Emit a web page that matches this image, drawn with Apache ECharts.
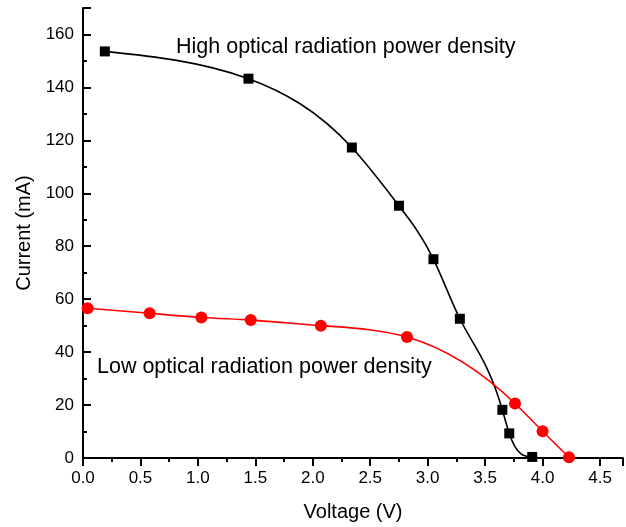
<!DOCTYPE html>
<html>
<head>
<meta charset="utf-8">
<script src="https://cdn.jsdelivr.net/npm/echarts@6/dist/echarts.min.js"></script>
<style>html,body{margin:0;padding:0;background:#fff;}#c{width:626px;height:527px;}</style>
</head>
<body>
<div id="c"></div>
<script>
var highV = [0.19, 1.44, 2.34, 2.75, 3.05, 3.28, 3.65, 3.71, 3.91];
var highI = [153.6, 143.3, 117.3, 95.3, 75.1, 52.6, 18.2, 9.3, 0.4];
var lowV = [0.04, 0.58, 1.03, 1.46, 2.07, 2.82, 3.76, 4.00, 4.23];
var lowI = [56.6, 54.7, 53.1, 52.1, 50.0, 45.7, 20.6, 10.1, 0.3];
var highLabel = 'High optical radiation power density';
var lowLabel = 'Low optical radiation power density';

function pairs(xs, ys) { return xs.map(function (x, i) { return [x, ys[i]]; }); }

// natural cubic spline slopes at the data points (data space)
function splineSlopes(xs, ys) {
  var n = xs.length, h = [], i;
  for (i = 0; i < n - 1; i++) h.push(xs[i + 1] - xs[i]);
  var a = [], b = [], c = [], d = [];
  for (i = 0; i < n; i++) {
    if (i === 0 || i === n - 1) { a.push(0); b.push(1); c.push(0); d.push(0); }
    else {
      a.push(h[i - 1]); b.push(2 * (h[i - 1] + h[i])); c.push(h[i]);
      d.push(6 * ((ys[i + 1] - ys[i]) / h[i] - (ys[i] - ys[i - 1]) / h[i - 1]));
    }
  }
  for (i = 1; i < n; i++) {
    var w = a[i] / b[i - 1];
    b[i] -= w * c[i - 1]; d[i] -= w * d[i - 1];
  }
  var M = new Array(n);
  M[n - 1] = d[n - 1] / b[n - 1];
  for (i = n - 2; i >= 0; i--) M[i] = (d[i] - c[i] * M[i + 1]) / b[i];
  var m = [];
  for (i = 0; i < n - 1; i++) m.push((ys[i + 1] - ys[i]) / h[i] - h[i] * (2 * M[i] + M[i + 1]) / 6);
  var k = n - 2;
  m.push((ys[k + 1] - ys[k]) / h[k] + h[k] * (M[k] + 2 * M[k + 1]) / 6);
  return m;
}

function splineSeries(xs, ys, color) {
  var m = splineSlopes(xs, ys);
  return {
    type: 'custom', silent: true, z: 1,
    data: pairs(xs.slice(0, -1), ys.slice(0, -1)),
    encode: {x: 0, y: 1},
    renderItem: function (params, api) {
      var i = params.dataIndex, hh = xs[i + 1] - xs[i];
      var p0 = api.coord([xs[i], ys[i]]);
      var c1 = api.coord([xs[i] + hh / 3, ys[i] + m[i] * hh / 3]);
      var c2 = api.coord([xs[i + 1] - hh / 3, ys[i + 1] - m[i + 1] * hh / 3]);
      var p3 = api.coord([xs[i + 1], ys[i + 1]]);
      return {
        type: 'bezierCurve',
        shape: {x1: p0[0], y1: p0[1], cpx1: c1[0], cpy1: c1[1], cpx2: c2[0], cpy2: c2[1], x2: p3[0], y2: p3[1]},
        style: {stroke: color, lineWidth: 1.6, fill: null}
      };
    }
  };
}

var font = 'Liberation Sans, Arial, sans-serif';
var chart = echarts.init(document.getElementById('c'), null, {renderer: 'canvas'});
chart.setOption({
  animation: false,
  backgroundColor: '#fff',
  grid: {left: 83, right: -1, top: 8, bottom: 67, containLabel: false},
  xAxis: {
    type: 'value', min: 0, max: 4.7, interval: 0.5,
    name: 'Voltage (V)', nameLocation: 'middle', nameGap: 44,
    nameTextStyle: {fontFamily: font, fontSize: 20, color: '#000'},
    axisLine: {lineStyle: {color: '#000', width: 2}},
    axisTick: {inside: false, length: 8, lineStyle: {color: '#000', width: 2}},
    minorTick: {show: true, splitNumber: 2, length: 4, lineStyle: {color: '#000', width: 2}},
    splitLine: {show: false},
    axisLabel: {fontFamily: font, fontSize: 17, color: '#000', margin: 12,
      formatter: function (v) { return Math.abs(v / 0.5 - Math.round(v / 0.5)) < 1e-6 ? v.toFixed(1) : ''; }}
  },
  yAxis: {
    type: 'value', min: 0, max: 170, interval: 20,
    name: 'Current (mA)', nameLocation: 'middle', nameGap: 49,
    nameTextStyle: {fontFamily: font, fontSize: 20, color: '#000'},
    axisLine: {show: true, lineStyle: {color: '#000', width: 2}},
    axisTick: {inside: true, length: 8, lineStyle: {color: '#000', width: 2}},
    minorTick: {show: true, splitNumber: 2, length: 4, lineStyle: {color: '#000', width: 2}},
    splitLine: {show: false},
    axisLabel: {fontFamily: font, fontSize: 17, color: '#000', margin: 9,
      formatter: function (v) { return v % 20 === 0 ? String(v) : ''; }}
  },
  series: [
    splineSeries(highV, highI, '#000'),
    splineSeries(lowV, lowI, '#ff0000'),
    {
      type: 'line', name: 'high', data: pairs(highV, highI), z: 3,
      symbol: 'rect', symbolSize: 10, showAllSymbol: true,
      lineStyle: {opacity: 0}, itemStyle: {color: '#000'}
    },
    {
      type: 'line', name: 'low', data: pairs(lowV, lowI), z: 3,
      symbol: 'circle', symbolSize: 12, showAllSymbol: true,
      lineStyle: {opacity: 0}, itemStyle: {color: '#ff0000'}
    }
  ],
  graphic: [
    {type: 'text', left: 176, top: 36, style: {text: highLabel, font: '21.5px ' + font, fill: '#000'}},
    {type: 'text', left: 97, top: 356, style: {text: lowLabel, font: '21.5px ' + font, fill: '#000'}}
  ]
});
</script>
</body>
</html>
